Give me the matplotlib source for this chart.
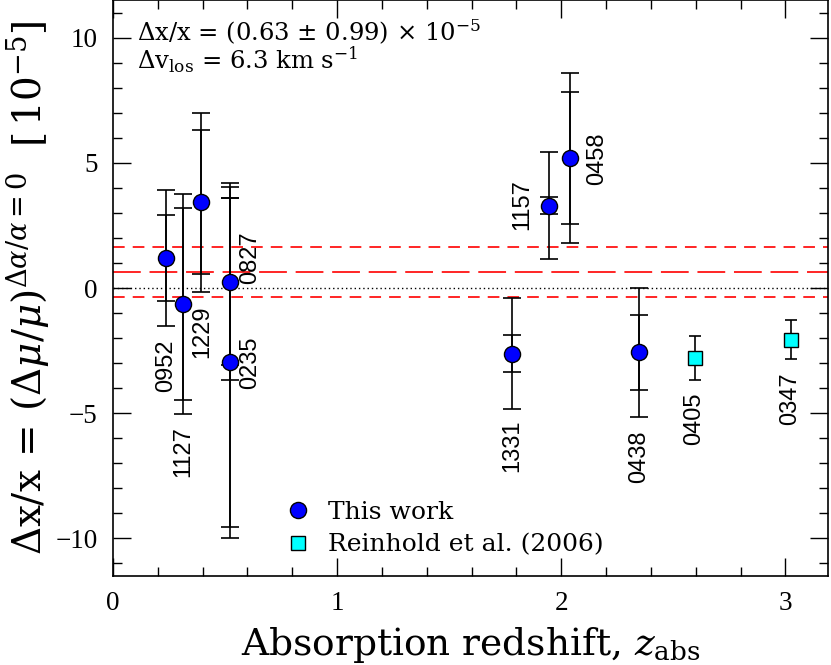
import matplotlib
matplotlib.use("Agg")
import matplotlib.pyplot as plt
from matplotlib.lines import Line2D
from matplotlib.ticker import MultipleLocator

plt.rcParams['mathtext.fontset'] = 'dejavuserif'
plt.rcParams['lines.scale_dashes'] = False

# this work: absorber redshift, dx/x [1e-5], statistical and total errors
names_this = ['0952', '1127', '1229', '0827', '0235', '1331', '1157', '0458', '0438']
z_this = [0.238, 0.312, 0.394, 0.524, 0.524, 1.778, 1.944, 2.038, 2.347]
dx_this = [1.20, -0.64, 3.42, 0.25, -2.97, -2.62, 3.29, 5.19, -2.57]
err_stat = [1.70, 3.85, 2.87, 3.34, 6.58, 0.745, 0.35, 2.645, 1.51]
err_tot = [2.71, 4.38, 3.57, 3.94, 7.00, 2.22, 2.14, 3.38, 2.58]

# Reinhold et al. (2006)
names_rh = ['0405', '0347']
z_rh = [2.595, 3.025]
dx_rh = [-2.78, -2.06]
err_rh = [0.88, 0.79]

# weighted mean and its error
mean_dx = 0.63
mean_err = 0.99

# where the quasar names sit (redshift, dx/x)
label_pos = {
    '0952': (0.238, -3.1), '1127': (0.312, -6.52), '1229': (0.398, -1.75),
    '0827': (0.610, 1.21), '0235': (0.610, -2.98), '1331': (1.780, -6.31),
    '1157': (1.825, 3.34), '0458': (2.161, 5.18), '0438': (2.347, -6.72),
    '0405': (2.594, -5.22), '0347': (3.023, -4.42),
}

fig = plt.figure(figsize=(8.31, 6.65), dpi=100)
ax = fig.add_axes([113/831, 89/665, 715/831, 576/665])

ax.axhline(0, color='k', lw=1.0, ls=(0, (1.0, 2.1)), zorder=1)
ax.axhline(mean_dx, color='red', lw=1.2, ls=(0, (20, 6.3)), zorder=1)
ax.axhline(mean_dx + mean_err, color='red', lw=1.2, ls=(0, (8.4, 5.8)), zorder=1)
ax.axhline(mean_dx - mean_err, color='red', lw=1.2, ls=(0, (8.4, 5.8)), zorder=1)

ax.errorbar(z_this, dx_this, yerr=err_tot, fmt='none', ecolor='k',
            elinewidth=1.2, capsize=6.8, capthick=1.2, zorder=2)
ax.errorbar(z_this, dx_this, yerr=err_stat, fmt='none', ecolor='k',
            elinewidth=1.2, capsize=6.8, capthick=1.2, zorder=2)
ax.errorbar(z_rh, dx_rh, yerr=err_rh, fmt='none', ecolor='k',
            elinewidth=1.2, capsize=4.6, capthick=1.2, zorder=2)

ax.plot(z_this, dx_this, 'o', ms=11.6, mfc='#0000ff', mec='k', mew=1.0, zorder=3)
ax.plot(z_rh, dx_rh, 's', ms=10.3, mfc='#00ffff', mec='k', mew=1.0, zorder=3)

for name in names_this + names_rh:
    x, y = label_pos[name]
    ax.text(x, y, name, rotation=90, ha='center', va='center',
            fontsize=17, family='Liberation Sans')

ax.set_xlim(0, 3.19)
ax.set_ylim(-11.5, 11.5)
ax.xaxis.set_major_locator(MultipleLocator(1))
ax.xaxis.set_minor_locator(MultipleLocator(0.2))
ax.yaxis.set_major_locator(MultipleLocator(5))
ax.yaxis.set_minor_locator(MultipleLocator(1))
ax.tick_params(which='both', direction='in', top=True, right=True, width=1.0)
ax.tick_params(which='major', length=13, pad=11, labelsize=19.5)
ax.tick_params(which='minor', length=6.7)
for lab in ax.get_xticklabels() + ax.get_yticklabels():
    lab.set_family('Liberation Serif')
for sp in ax.spines.values():
    sp.set_linewidth(1.2)

ax.set_xlabel(r'Absorption redshift, $z_{\rm abs}$', fontsize=27,
              family='DejaVu Serif', labelpad=6)
ax.set_ylabel(r'$\Delta\mathrm{x}/\mathrm{x}\,=\,(\Delta\mu/\mu)^{\Delta\alpha/\alpha=0}\ \ [\,10^{-5}]$',
              fontsize=28, labelpad=3)

ax.text(0.0336, 0.929, r'$\Delta$x/x = (0.63 $\pm$ 0.99) $\times$ 10$^{-5}$',
        transform=ax.transAxes, fontsize=17.5, family='DejaVu Serif', va='baseline')
ax.text(0.0336, 0.880, r'$\Delta$v$_{\rm los}$ = 6.3 km s$^{-1}$',
        transform=ax.transAxes, fontsize=17.5, family='DejaVu Serif', va='baseline')

handles = [
    Line2D([], [], ls='none', marker='o', ms=11.6, mfc='#0000ff', mec='k', mew=1.0),
    Line2D([], [], ls='none', marker='s', ms=10.3, mfc='#00ffff', mec='k', mew=1.0),
]
ax.legend(handles, ['This work', 'Reinhold et al. (2006)'], loc='lower left',
          bbox_to_anchor=(0.224, 0.012), frameon=False, handlelength=1.0,
          handletextpad=0.7, labelspacing=0.38, borderpad=0,
          prop={'family': 'DejaVu Serif', 'size': 18})

fig.savefig('out.png', dpi=100)
